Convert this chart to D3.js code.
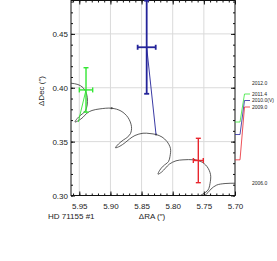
<!DOCTYPE html>
<html>
<head>
<meta charset="utf-8">
<script src="https://cdn.jsdelivr.net/npm/d3@7"></script>
<style>
body { margin: 0; background: #fff; }
svg { display: block; }
text { font-family: "Liberation Sans", Arial, sans-serif; fill: #222; }
</style>
</head>
<body>
<svg id="chart" width="277" height="261"></svg>
<script>
// measured positions (arcsec) with errors
var obsLabel = ["2011.4", "2010.0(V)", "2009.0"];
var obsColor = ["#33e633", "#24249a", "#e8262e"];
var obsRA = [5.9392, 5.8418, 5.7589];
var obsDec = [0.3980, 0.4376, 0.3325];
var obsRAerr = [0.0107, 0.0145, 0.0080];
var obsDecErr = [0.0206, 0.0432, 0.0206];

// predicted position at each epoch
var modelRA = [5.9516, 5.8268, 5.7658];
var modelDec = [0.3682, 0.3566, 0.3331];

// predicted track, 2012.0 -> 2006.0
var trackRA = [5.9714, 5.9633, 5.9521, 5.9441, 5.9384, 5.9368, 5.9384, 5.9417,
  5.9473, 5.9534, 5.9569, 5.9508, 5.9441, 5.9376, 5.9296, 5.9168,
  5.8980, 5.8830, 5.8718, 5.8662, 5.8678, 5.8734, 5.8793, 5.8871,
  5.8919, 5.8847, 5.8763, 5.8694, 5.8606, 5.8477, 5.8365, 5.8268,
  5.8172, 5.8092, 5.8036, 5.8044, 5.8068, 5.8153, 5.8209, 5.8236,
  5.8177, 5.8117, 5.8052, 5.7947, 5.7835, 5.7658, 5.7546, 5.7450,
  5.7393, 5.7401, 5.7433, 5.7514, 5.7586, 5.7618, 5.7578, 5.7498,
  5.7433, 5.7385, 5.7294, 5.7160, 5.7000, 5.6888];
var trackDec = [0.4044, 0.4042, 0.4030, 0.4002, 0.3946, 0.3872, 0.3812, 0.3775,
  0.3748, 0.3714, 0.3682, 0.3697, 0.3726, 0.3765, 0.3789, 0.3804,
  0.3810, 0.3784, 0.3724, 0.3640, 0.3575, 0.3538, 0.3515, 0.3478,
  0.3443, 0.3458, 0.3491, 0.3524, 0.3557, 0.3578, 0.3575, 0.3566,
  0.3543, 0.3501, 0.3436, 0.3362, 0.3315, 0.3273, 0.3234, 0.3198,
  0.3218, 0.3254, 0.3292, 0.3322, 0.3331, 0.3331, 0.3315, 0.3269,
  0.3195, 0.3111, 0.3051, 0.3014, 0.2991, 0.2979, 0.2977, 0.2995,
  0.3028, 0.3060, 0.3097, 0.3111, 0.3114, 0.3114];
var trackEnds = ["2012.0", "2006.0"];

// dots on the track
var markRA = [5.8980, 5.8268, 5.7658];
var markDec = [0.3810, 0.3566, 0.3331];

var xTicks = [5.95, 5.90, 5.85, 5.80, 5.75, 5.70];
var yTicks = [0.30, 0.35, 0.40, 0.45];

var margin = {top: 0.5, left: 71};
var width = 164, height = 195;

var svg = d3.select("#chart");
var g = svg.append("g").attr("transform", "translate(" + margin.left + "," + margin.top + ")");

var x = d3.scaleLinear().domain([5.9633, 5.70]).range([0, width]);
var y = d3.scaleLinear().domain([0.30, 0.481]).range([height, 0]);

svg.append("defs").append("clipPath").attr("id", "plotclip")
  .append("rect").attr("width", width).attr("height", height);

// grid
g.selectAll(".gx").data(xTicks.filter(function(d){ return d > 5.71; }))
  .enter().append("line")
  .attr("x1", function(d){ return x(d); }).attr("x2", function(d){ return x(d); })
  .attr("y1", 0).attr("y2", height)
  .attr("stroke", "#dadada").attr("stroke-width", 1);
g.selectAll(".gy").data(yTicks.filter(function(d){ return d > 0.31; }))
  .enter().append("line")
  .attr("y1", function(d){ return y(d); }).attr("y2", function(d){ return y(d); })
  .attr("x1", 0).attr("x2", width)
  .attr("stroke", "#dadada").attr("stroke-width", 1);

// minor ticks every 0.01
var xMinor = d3.range(5.70, 5.9601, 0.01);
var yMinor = d3.range(0.30, 0.4801, 0.01);

function styleAxis(sel) {
  sel.selectAll("path").remove();
  sel.selectAll("line").attr("stroke", "#111");
  sel.selectAll("text").style("font-size", "8px").attr("fill", "#222");
}

g.append("g").attr("transform", "translate(0," + height + ")")
  .call(d3.axisBottom(x).tickValues(xMinor).tickSize(-2).tickFormat("")).call(styleAxis);
g.append("g")
  .call(d3.axisTop(x).tickValues(xMinor).tickSize(-2).tickFormat("")).call(styleAxis);
g.append("g")
  .call(d3.axisLeft(y).tickValues(yMinor).tickSize(-2).tickFormat("")).call(styleAxis);
g.append("g").attr("transform", "translate(" + width + ",0)")
  .call(d3.axisRight(y).tickValues(yMinor).tickSize(-2).tickFormat("")).call(styleAxis);

g.append("g").attr("transform", "translate(0," + height + ")")
  .call(d3.axisBottom(x).tickValues(xTicks).tickSize(-4).tickPadding(8).tickFormat(d3.format(".2f")))
  .call(styleAxis);
g.append("g")
  .call(d3.axisTop(x).tickValues(xTicks).tickSize(-4).tickFormat("")).call(styleAxis);
g.append("g")
  .call(d3.axisLeft(y).tickValues(yTicks).tickSize(-4).tickPadding(3).tickFormat(d3.format(".2f")))
  .call(styleAxis);
g.append("g").attr("transform", "translate(" + width + ",0)")
  .call(d3.axisRight(y).tickValues(yTicks).tickSize(-4).tickFormat("")).call(styleAxis);

// box
g.append("rect").attr("width", width).attr("height", height)
  .attr("fill", "none").attr("stroke", "#111").attr("stroke-width", 1);

// track
var track = trackRA.map(function(d, i){ return [d, trackDec[i]]; });
var line = d3.line()
  .x(function(d){ return x(d[0]); })
  .y(function(d){ return y(d[1]); })
  .curve(d3.curveCatmullRom.alpha(0.5));

var plot = g.append("g").attr("clip-path", "url(#plotclip)");
plot.append("path").datum(track)
  .attr("d", line)
  .attr("fill", "none").attr("stroke", "#333").attr("stroke-width", 0.8);

plot.selectAll(".mark").data(markRA).enter().append("circle")
  .attr("cx", function(d){ return x(d); })
  .attr("cy", function(d, i){ return y(markDec[i]); })
  .attr("r", 1.1).attr("fill", "#444");

// lines from measurement to predicted position
obsRA.forEach(function(ra, i){
  g.append("line")
    .attr("x1", x(ra)).attr("y1", y(obsDec[i]))
    .attr("x2", x(modelRA[i])).attr("y2", y(modelDec[i]))
    .attr("stroke", obsColor[i]).attr("stroke-width", 0.9);
});

// error bars
obsRA.forEach(function(ra, i){
  var eb = g.append("g").attr("stroke", obsColor[i])
    .attr("stroke-width", i == 1 ? 1.8 : 1.4);
  var cx = x(ra), cy = y(obsDec[i]);
  var x0 = x(ra + obsRAerr[i]), x1 = x(ra - obsRAerr[i]);
  var y0 = y(obsDec[i] - obsDecErr[i]), y1 = y(obsDec[i] + obsDecErr[i]);
  var c = 2.5;
  eb.append("line").attr("x1", cx).attr("x2", cx).attr("y1", y0).attr("y2", y1);
  eb.append("line").attr("x1", x0).attr("x2", x1).attr("y1", cy).attr("y2", cy);
  eb.append("line").attr("x1", cx - c).attr("x2", cx + c).attr("y1", y0).attr("y2", y0);
  eb.append("line").attr("x1", cx - c).attr("x2", cx + c).attr("y1", y1).attr("y2", y1);
  eb.append("line").attr("x1", x0).attr("x2", x0).attr("y1", cy - c).attr("y2", cy + c);
  eb.append("line").attr("x1", x1).attr("x2", x1).attr("y1", cy - c).attr("y2", cy + c);
});

// epoch key on the right
var keyX = width + 17;
obsLabel.forEach(function(lab, i){
  var ly = 93.5 + i * 6.5;
  var my = y(modelDec[i]);
  g.append("polyline")
    .attr("points", [[width, my], [width + 5, my], [width + 9.5, ly], [width + 15, ly]].join(" "))
    .attr("fill", "none").attr("stroke", obsColor[i]).attr("stroke-width", 0.8);
  g.append("text").attr("x", keyX).attr("y", ly).attr("dy", "0.35em")
    .style("font-size", "5px").attr("fill", obsColor[i]).text(lab);
});
g.append("text").attr("x", keyX).attr("y", y(trackDec[1])).attr("dy", "0.35em")
  .style("font-size", "5px").attr("fill", "#555").text(trackEnds[0]);
g.append("text").attr("x", keyX).attr("y", y(trackDec[trackDec.length - 2])).attr("dy", "0.35em")
  .style("font-size", "5px").attr("fill", "#555").text(trackEnds[1]);

// axis titles
svg.append("text")
  .attr("transform", "translate(44,91) rotate(-90)")
  .attr("text-anchor", "middle").style("font-size", "8px")
  .text("\u0394Dec (\u2033)");
svg.append("text").attr("x", 152).attr("y", 218.5)
  .attr("text-anchor", "middle").style("font-size", "8px")
  .text("\u0394RA (\u2033)");
svg.append("text").attr("x", 48).attr("y", 218.5)
  .style("font-size", "8px").text("HD 71155 #1");
</script>
</body>
</html>
